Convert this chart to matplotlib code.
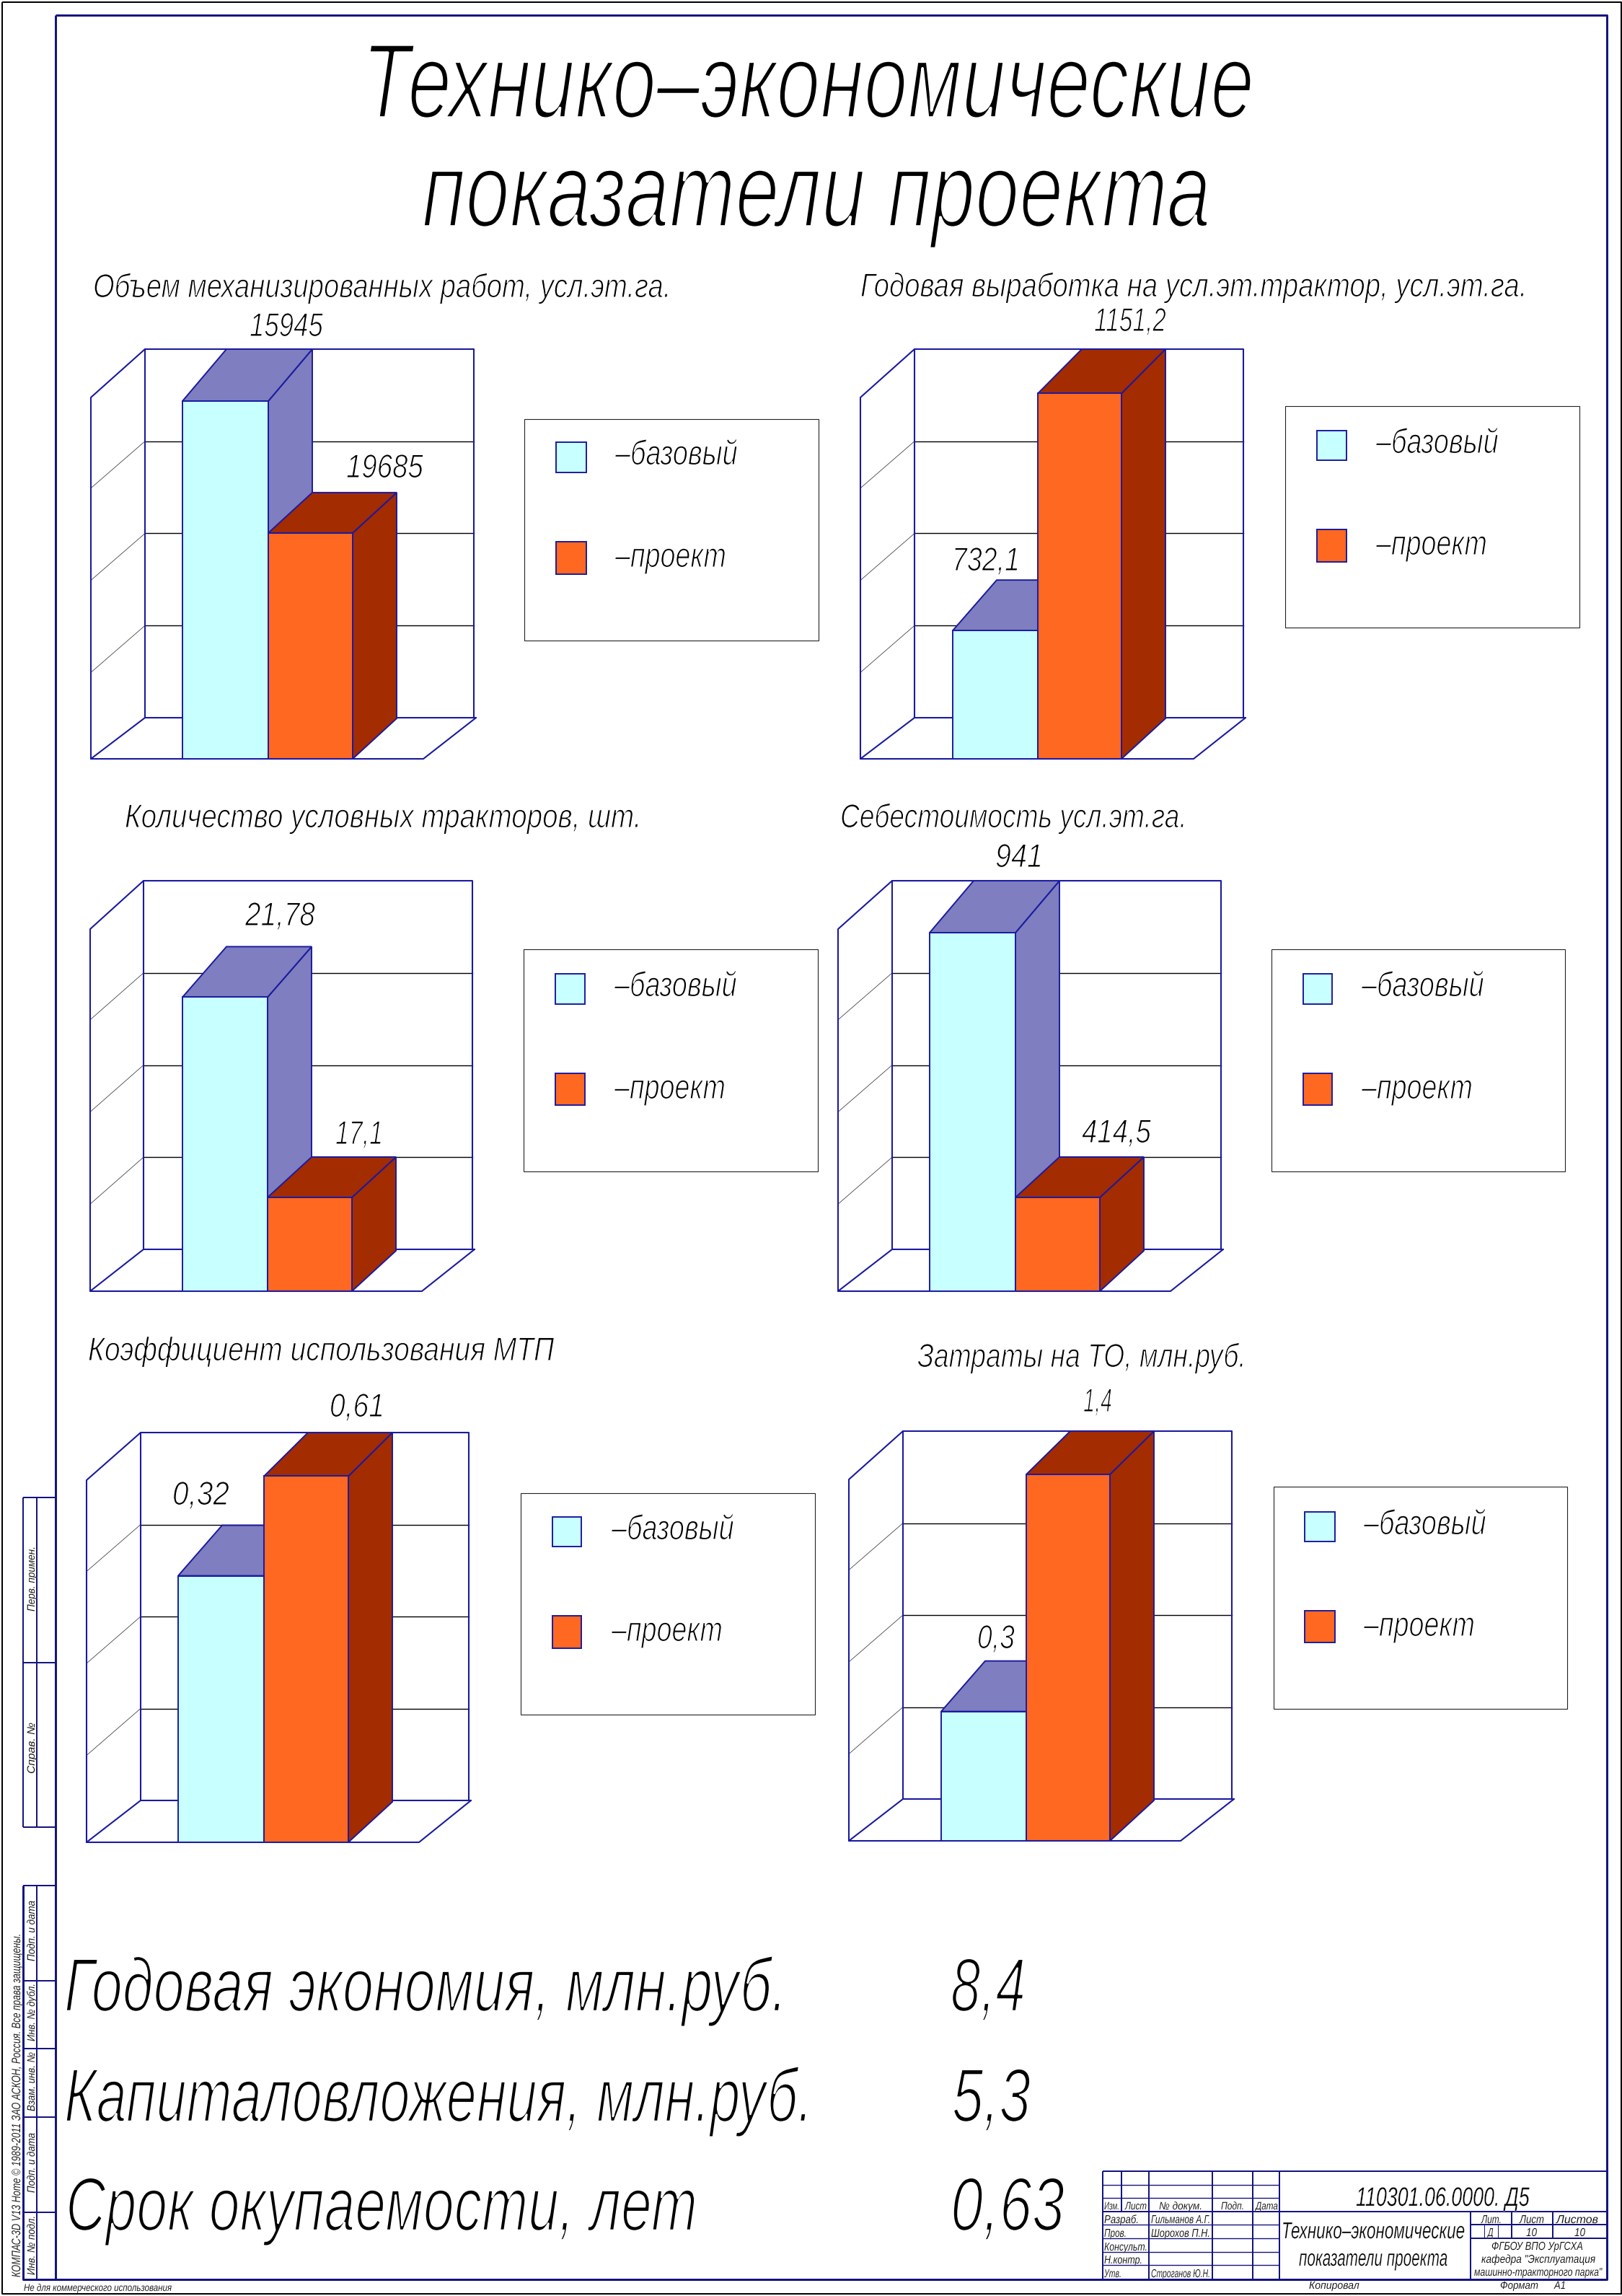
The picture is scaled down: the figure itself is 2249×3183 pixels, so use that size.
import matplotlib
matplotlib.use('Agg')
import matplotlib.pyplot as plt
import matplotlib.patheffects as pe
from matplotlib.patches import Rectangle
from matplotlib.transforms import Affine2D, Bbox

# Chart data
panel_titles = ['Объем механизированных работ, усл.эт.га.',
                'Годовая выработка на усл.эт.трактор, усл.эт.га.',
                'Количество условных тракторов, шт.',
                'Себестоимость усл.эт.га.',
                'Коэффициент использования МТП',
                'Затраты на ТО, млн.руб.']
base_labels = ['15945', '732,1', '21,78', '941', '0,32', '0,3']
project_labels = ['19685', '1151,2', '17,1', '414,5', '0,61', '1,4']
# bar heights, in front wall heights (there is no value axis)
base_heights = [0.990, 0.355, 0.812, 0.990, 0.736, 0.358]
project_heights = [0.625, 1.011, 0.259, 0.259, 1.011, 1.014]
legend_labels = ['–базовый', '–проект']
grid_steps = [0.25, 0.5, 0.75]

main_title = ['Технико–экономические', 'показатели проекта']
summary_labels = ['Годовая экономия, млн.руб.', 'Капиталовложения, млн.руб.', 'Срок окупаемости, лет']
summary_values = ['8,4', '5,3', '0,63']

# Layout, all in picture pixels
W, H = 2249, 3183
# x front-left, x back-left, x front-right, x back-right, y top, y back, y front, y left wall top
frames = [(126, 201, 587, 660, 484, 995, 1052, 551),
          (1193, 1268, 1655, 1727, 484, 995, 1052, 551),
          (125, 199, 585, 658, 1221, 1732, 1790, 1288),
          (1162, 1237, 1623, 1696, 1221, 1732, 1790, 1288),
          (120, 195, 581, 653, 1986, 2496, 2554, 2052),
          (1177, 1252, 1637, 1711, 1984, 2494, 2552, 2051)]
# left edge of bar 1, border between bars, right edge of bar 2
bar_edges = [(253, 372, 489), (1321, 1439, 1555), (253, 371, 488),
             (1289, 1408, 1525), (247, 366, 483), (1305, 1423, 1539)]
# title: x left, x right, baseline
title_pos = [(129, 931, 412), (1193, 2118, 411), (173, 890, 1147),
             (1165, 1646, 1147), (122, 769, 1886), (1272, 1728, 1895)]
base_label_pos = [(346, 448, 466), (1320, 1414, 791), (340, 437, 1283),
                  (1380, 1446, 1202), (239, 318, 2086), (1355, 1407, 2285)]
project_label_pos = [(480, 587, 662), (1517, 1617, 459), (465, 531, 1586),
                     (1500, 1596, 1584), (457, 533, 1964), (1502, 1542, 1957)]
# box x0, x1, y0, y1, swatch x0, x1, swatch 1 y0, y1, swatch 2 y0, y1, text x
legends = [(727, 1135, 581, 888, 771, 813, 613, 655, 751, 796, 853),
           (1782, 2190, 563, 870, 1826, 1867, 597, 638, 734, 779, 1908),
           (726, 1134, 1316, 1624, 770, 811, 1350, 1392, 1488, 1532, 852),
           (1763, 2170, 1316, 1624, 1807, 1847, 1350, 1392, 1488, 1532, 1888),
           (722, 1130, 2070, 2377, 766, 806, 2103, 2144, 2240, 2285, 848),
           (1766, 2173, 2061, 2369, 1809, 1851, 2096, 2137, 2233, 2277, 1891)]

NAVY = '#14147f'
EDGE = '#1a1aa0'
C_BASE, C_BASE_DARK = '#c8ffff', '#7e7ec0'
C_PROJ, C_PROJ_DARK = '#ff6820', '#a32c00'
DEPTH_X, DEPTH_BASE, DEPTH_PROJ = 61, 70, 56

plt.rcParams['font.family'] = ['Liberation Sans', 'DejaVu Sans']
plt.rcParams['font.style'] = 'italic'

fig = plt.figure(figsize=(W / 100, H / 100), dpi=100, facecolor='white')
renderer = fig.canvas.get_renderer()


class Squeeze(pe.AbstractPathEffect):
    # the drawing font (GOST type) is narrow and thin, no installed one is:
    # squeeze the glyphs along the line and eat their outline a little
    def __init__(self, sx, thin):
        super().__init__()
        self.sx = sx
        self.thin = thin

    def draw_path(self, rend, gc, tpath, affine, rgbFace=None):
        gc0 = rend.new_gc()
        gc0.copy_properties(gc)
        gc0.set_linewidth(self.thin)
        gc0.set_foreground('white')
        rend.draw_path(gc0, tpath, Affine2D().scale(self.sx, 1) + affine, rgbFace)
        gc0.restore()


def draw_panel(i):
    xfl, xbl, xfr, xbr, top, back, front, left_top = frames[i]
    b0, b1, b2 = bar_edges[i]
    ax = fig.add_axes([xfl / W, 1 - front / H, (xbr - xfl) / W, (front - top) / H])
    ax.axis('off')
    unit_x = float(b1 - b0)
    unit_y = float(front - left_top)
    ax.set_xlim((xfl - b0) / unit_x, (xbr - b0) / unit_x)
    ax.set_ylim(0, (front - top) / unit_y)
    px = lambda x: (x - b0) / unit_x
    py = lambda y: (front - y) / unit_y
    wall_top = py(top)
    line = dict(color=EDGE, lw=1.5, clip_on=False, solid_capstyle='round', zorder=2)

    # back wall grid and left wall grid
    wall_h = back - top
    for g in grid_steps:
        yg = top + wall_h * g
        ax.plot([px(xbl), px(xbr - 3)], [py(yg), py(yg)], color='black', lw=1.0, clip_on=False, zorder=1)
        ax.plot([px(xfl), px(xbl)], [py(yg + 65), py(yg)], color='#333333', lw=0.55, clip_on=False, zorder=1)

    # box of the chart: back wall, left wall, floor
    ax.plot([px(xbl), px(xbl), px(xbr - 3), px(xbr - 3)], [py(back), py(top), py(top), py(back)], **line)
    ax.plot([px(xfl), px(xfl), px(xbl)], [py(front), py(left_top), py(top)], **line)
    ax.plot([px(xbr), px(xfr), px(xfl), px(xbl), px(xbr)],
            [py(back), py(front), py(front), py(back), py(back)], **line)

    # the bars with a faked depth
    dx = DEPTH_X / unit_x
    widths = [1.0, (b2 - b1) / unit_x]
    starts = [0.0, 1.0]
    heights = [base_heights[i], project_heights[i]]
    depths = [DEPTH_BASE / unit_y, DEPTH_PROJ / unit_y]
    cols = [(C_BASE, C_BASE_DARK), (C_PROJ, C_PROJ_DARK)]
    for k, (x, w, h, d, (front_c, dark_c)) in enumerate(zip(starts, widths, heights, depths, cols)):
        z = 3 + k
        y_back = wall_top if h + d >= wall_top - 0.03 else h + d
        ax.fill([x + w, x + w + dx, x + w + dx, x + w], [0, d, y_back, h],
                facecolor=dark_c, edgecolor=EDGE, lw=1.4, clip_on=False, zorder=z)
        ax.fill([x, x + dx, x + w + dx, x + w], [h, y_back, y_back, h],
                facecolor=dark_c, edgecolor=EDGE, lw=1.4, clip_on=False, zorder=z)
        ax.bar([x], [h], width=w, align='edge', color=front_c, edgecolor=EDGE, lw=1.4, clip_on=False, zorder=z)


for i in range(len(panel_titles)):
    draw_panel(i)

# Page overlay: frames, stamps and all the text
page = fig.add_axes([0, 0, 1, 1], zorder=10)
page.set_xlim(0, W)
page.set_ylim(H, 0)
page.axis('off')


def put(x0, x1, y, s, em, rotation=0, thin=0.025, color='black'):
    # em is the letter size in pixels, x0..x1 the length of the text in the picture
    size = em * 0.72
    t = page.text(x0, y, s, fontsize=size, ha='left', va='baseline', rotation=rotation,
                  rotation_mode='anchor', color=color)
    box = t.get_window_extent(renderer)
    sx = abs(x1 - x0) / max(box.width, box.height)
    t.set_path_effects([Squeeze(sx, size * thin)])

    # report the extent of what is really drawn, not of the unsqueezed text
    natural_extent = t.get_window_extent

    def squeezed_extent(renderer=None, dpi=None):
        b = natural_extent(renderer, dpi)
        if rotation:
            return Bbox.from_extents(b.x0, b.y0, b.x1, b.y0 + b.height * sx)
        return Bbox.from_extents(b.x0, b.y0, b.x0 + b.width * sx, b.y1)

    t.get_window_extent = squeezed_extent
    return t


def seg(xs, ys, lw=2.0, color=NAVY):
    page.plot(xs, ys, color=color, lw=lw * 0.72, solid_capstyle='butt', clip_on=False)


# outer sheet line and drawing frame
seg([2.5, 2248, 2248, 2.5, 2.5], [2.5, 2.5, 3180, 3180, 2.5], lw=2, color='black')
seg([77, 2228, 2228, 32, 32], [21, 21, 3160, 3160, 2614], lw=3)
seg([77, 77], [21, 3160], lw=3)

# left stamps
for y in [2076, 2305, 2533, 2614, 2746, 2840, 2935, 3067]:
    seg([32, 77], [y, y])
seg([32, 32], [2076, 2533])
seg([51, 51], [2076, 2533])
seg([51, 51], [2614, 3160])
for s, y0, y1 in [('Перв. примен.', 2234, 2144), ('Справ. №', 2459, 2388), ('Подп. и дата', 2719, 2635),
                  ('Инв. № дубл.', 2830, 2750), ('Взам. инв. №', 2927, 2845), ('Подп. и дата', 3040, 2957),
                  ('Инв. № подл.', 3154, 3072)]:
    put(48, 48 + (y0 - y1), y0, s, 15, rotation=90, thin=0.01)
put(28, 28 + 477, 3157, 'КОМПАС-3D V13 Home © 1989-2011 ЗАО АСКОН, Россия. Все права защищены.', 17,
    rotation=90, thin=0.01)
put(33, 238, 3176, 'Не для коммерческого использования', 14, thin=0.01)

# title block
for y in [3010, 3028.5, 3047, 3066, 3084, 3103, 3121.6, 3140]:
    seg([1529, 1774], [y, y], lw=2 if y in (3010, 3066) else 1.4)
seg([1774, 2228], [3010, 3010])
seg([1774, 2228], [3066, 3066])
seg([2039, 2228], [3084, 3084])
seg([2039, 2228], [3103, 3103])
for x in [1529, 1593, 1681, 1736.5, 1774]:
    seg([x, x], [3010, 3160])
seg([1555, 1555], [3010, 3066])
seg([2039, 2039], [3066, 3160])
for x in [2096, 2153]:
    seg([x, x], [3066, 3103])
for x in [2058, 2077]:
    seg([x, x], [3084, 3103], lw=1)
for x0, x1, y, s, em in [(1531, 1552, 3063, 'Изм.', 15), (1560, 1590, 3063, 'Лист', 15),
                         (1607, 1667, 3063, '№ докум.', 15), (1693, 1725, 3063, 'Подп.', 15),
                         (1741, 1772, 3063, 'Дата', 15),
                         (1531, 1579, 3082, 'Разраб.', 16), (1596, 1678, 3082, 'Гильманов А.Г.', 16),
                         (1531, 1562, 3101, 'Пров.', 16), (1596, 1678, 3101, 'Шорохов П.Н.', 16),
                         (1531, 1591, 3120, 'Консульт.', 16), (1531, 1584, 3138, 'Н.контр.', 16),
                         (1531, 1555, 3157, 'Утв.', 16), (1596, 1678, 3157, 'Строганов Ю.Н.', 16),
                         (1880, 2121, 3058, '110301.06.0000. Д5', 37),
                         (1777, 2031, 3103, 'Технико–экономические', 32), (1801, 2007, 3141, 'показатели проекта', 32),
                         (2054, 2082, 3082, 'Лит.', 16), (2107, 2141, 3082, 'Лист', 16), (2158, 2216, 3082, 'Листов', 16),
                         (2063, 2073, 3100, 'Д', 16), (2116, 2131, 3100, '10', 16), (2183, 2198, 3100, '10', 16),
                         (2068, 2195, 3119, 'ФГБОУ ВПО УрГСХА', 16), (2054, 2212, 3137, 'кафедра "Эксплуатация', 16),
                         (2044, 2221, 3155, 'машинно-тракторного парка"', 16),
                         (1815, 1885, 3173, 'Копировал', 15), (2080, 2133, 3173, 'Формат', 15),
                         (2155, 2171, 3173, 'А1', 15)]:
    put(x0, x1, y, s, em, thin=0.01)

# main title and the summary lines
put(502, 1739, 163, main_title[0], 147)
put(585, 1679, 314, main_title[1], 147)
for s, (x0, x1, y) in zip(summary_labels, [(89, 1091, 2788), (89, 1127, 2941), (91, 967, 3092)]):
    put(x0, x1, y, s, 105)
for s, (x0, x1, y) in zip(summary_values, [(1318, 1422, 2788), (1320, 1429, 2941), (1318, 1476, 3092)]):
    put(x0, x1, y, s, 105)

# panel titles, value labels, legends
for i, s in enumerate(panel_titles):
    x0, x1, y = title_pos[i]
    put(x0, x1, y, s, 46)
    x0, x1, y = base_label_pos[i]
    put(x0, x1, y, base_labels[i], 46)
    x0, x1, y = project_label_pos[i]
    put(x0, x1, y, project_labels[i], 46)

    bx0, bx1, by0, by1, sx0, sx1, s1y0, s1y1, s2y0, s2y1, tx = legends[i]
    page.add_patch(Rectangle((bx0, by0), bx1 - bx0, by1 - by0, fc='none', ec='#222222', lw=0.8))
    page.add_patch(Rectangle((sx0, s1y0), sx1 - sx0, s1y1 - s1y0, fc=C_BASE, ec=EDGE, lw=1.4))
    page.add_patch(Rectangle((sx0, s2y0), sx1 - sx0, s2y1 - s2y0, fc=C_PROJ, ec=EDGE, lw=1.4))
    put(tx, tx + 170, s1y0 + 31, legend_labels[0], 48)
    put(tx, tx + 154, s2y0 + 35, legend_labels[1], 48)

fig.savefig('out.png', dpi=100)
